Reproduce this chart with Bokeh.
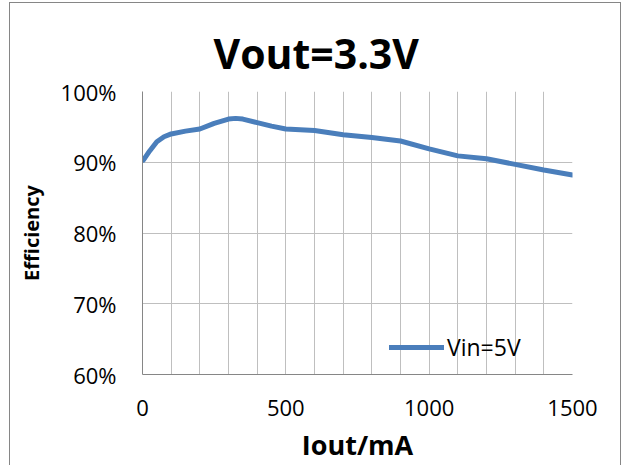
from bokeh.plotting import figure
from bokeh.embed import file_html
from bokeh.resources import INLINE
from bokeh.models import (ColumnDataSource, FixedTicker, NumeralTickFormatter,
                          Range1d, Legend, LegendItem, Title)

# ---- data ----
iout_ma = [3, 25, 50, 75, 100, 150, 200, 250, 300, 325, 350, 400, 450, 500,
           550, 600, 700, 800, 900, 1000, 1100, 1200, 1300, 1400, 1500]
eff_pct = [90.3, 91.6, 92.9, 93.6, 94.0, 94.4, 94.7, 95.5, 96.1, 96.2, 96.1,
           95.6, 95.1, 94.7, 94.6, 94.5, 93.9, 93.5, 93.0, 91.9, 90.9, 90.5,
           89.7, 88.9, 88.2]
x_ticks = [0, 500, 1000, 1500]
x_grid_ticks = [0, 100, 200, 300, 400, 500, 600, 700, 800, 900, 1000,
                1100, 1200, 1300, 1400, 1500]
y_ticks = [0.6, 0.7, 0.8, 0.9, 1.0]
series_name = "Vin=5V"
title_text = "Vout=3.3V"

src = ColumnDataSource(dict(x=iout_ma, y=[v / 100 for v in eff_pct]))

FONT = "Open Sans"
GRID = "#BFBFBF"
AXIS = "#868686"

p = figure(width=610, height=462, output_backend="svg", toolbar_location=None,
           frame_width=430, frame_height=283,
           min_border_left=132, min_border_right=48,
           min_border_top=88, min_border_bottom=91,
           x_range=Range1d(0, 1500), y_range=Range1d(0.6, 1.0),
           styles={"border": "1px solid #868686", "border-bottom": "none",
                   "margin": "2px 0 0 9px"})
p.outline_line_color = None
p.background_fill_color = "white"
p.border_fill_color = "white"

t = Title(text=title_text, align="left", offset=71, text_font=FONT,
          text_font_size="41px", text_font_style="bold", text_color="black",
          standoff=21)
p.add_layout(t, "above")

r = p.line("x", "y", source=src, line_color="#4A7EBB", line_width=5,
           line_join="round", line_cap="round")

# axes
p.xaxis.ticker = FixedTicker(ticks=x_ticks)
p.yaxis.ticker = FixedTicker(ticks=y_ticks)
p.yaxis.formatter = NumeralTickFormatter(format="0%")
p.xgrid.ticker = FixedTicker(ticks=x_grid_ticks)
p.ygrid.ticker = FixedTicker(ticks=y_ticks)
for g in (p.xgrid, p.ygrid):
    g.grid_line_color = GRID
    g.grid_line_width = 1

for ax in (p.xaxis, p.yaxis):
    ax.axis_line_color = AXIS
    ax.axis_line_width = 1
    ax.major_tick_out = 0
    ax.major_tick_in = 0
    ax.minor_tick_out = 0
    ax.minor_tick_in = 0
    ax.major_label_text_font = FONT
    ax.major_label_text_font_size = "22px"
    ax.major_label_text_color = "black"
    ax.axis_label_text_font = FONT
    ax.axis_label_text_font_style = "bold"
    ax.axis_label_text_color = "black"

p.xaxis.axis_label = "Iout/mA"
p.xaxis.axis_label_text_font_size = "27px"
p.xaxis.major_label_standoff = 25
p.xaxis.axis_label_standoff = 7
p.yaxis.axis_label = "Efficiency"
p.yaxis.axis_label_text_font_size = "20px"
p.yaxis.major_label_standoff = 26
p.yaxis.axis_label_standoff = 13

legend = Legend(items=[LegendItem(label=series_name, renderers=[r])],
                location=(247, 11), padding=0, margin=0, spacing=0,
                glyph_width=55, glyph_height=30, label_height=30,
                label_standoff=3, label_text_font=FONT,
                label_text_font_size="23px", label_text_color="black",
                background_fill_alpha=0, border_line_color=None)
p.add_layout(legend, "center")

open("out.html", "w").write(file_html(p, INLINE))
